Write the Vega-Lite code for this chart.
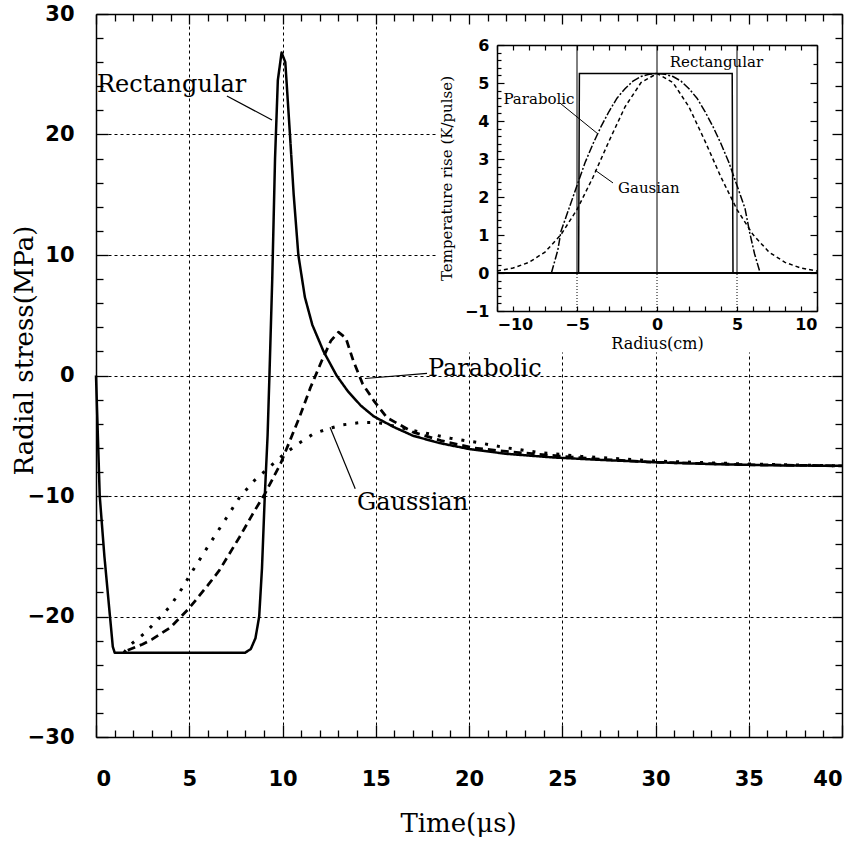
{
  "$schema": "https://vega.github.io/schema/vega-lite/v6.json",
  "width": 746,
  "height": 723,
  "autosize": {"type": "none"},
  "padding": {"left": 96, "top": 14, "right": 20, "bottom": 107},
  "background": "white",
  "config": {
    "view": {"stroke": null},
    "axis": {"domainColor": "black", "tickColor": "black", "labelColor": "black", "titleColor": "black", "gridColor": "black"}
  },
  "datasets": {
    "panel": [{"x1": 18.3, "x2": 39.9, "y1": 1.9, "y2": 29.8}],
    "stress": [
      {"series": "Rectangular", "t": 0, "v": 0},
      {"series": "Rectangular", "t": 0.1, "v": -5},
      {"series": "Rectangular", "t": 0.2, "v": -10},
      {"series": "Rectangular", "t": 0.45, "v": -15},
      {"series": "Rectangular", "t": 0.75, "v": -20},
      {"series": "Rectangular", "t": 0.9, "v": -22.5},
      {"series": "Rectangular", "t": 1.0, "v": -23},
      {"series": "Rectangular", "t": 2, "v": -23},
      {"series": "Rectangular", "t": 4, "v": -23},
      {"series": "Rectangular", "t": 6, "v": -23},
      {"series": "Rectangular", "t": 8, "v": -23},
      {"series": "Rectangular", "t": 8.3, "v": -22.7},
      {"series": "Rectangular", "t": 8.55, "v": -21.8},
      {"series": "Rectangular", "t": 8.75, "v": -20},
      {"series": "Rectangular", "t": 8.9, "v": -16},
      {"series": "Rectangular", "t": 9.05, "v": -10},
      {"series": "Rectangular", "t": 9.2, "v": -5},
      {"series": "Rectangular", "t": 9.3, "v": 0},
      {"series": "Rectangular", "t": 9.45, "v": 8},
      {"series": "Rectangular", "t": 9.6, "v": 18},
      {"series": "Rectangular", "t": 9.75, "v": 24.5},
      {"series": "Rectangular", "t": 9.95, "v": 26.8},
      {"series": "Rectangular", "t": 10.15, "v": 26},
      {"series": "Rectangular", "t": 10.4, "v": 20},
      {"series": "Rectangular", "t": 10.6, "v": 15},
      {"series": "Rectangular", "t": 10.85, "v": 10},
      {"series": "Rectangular", "t": 11.2, "v": 6.5},
      {"series": "Rectangular", "t": 11.6, "v": 4.2},
      {"series": "Rectangular", "t": 12.2, "v": 2},
      {"series": "Rectangular", "t": 12.9, "v": 0},
      {"series": "Rectangular", "t": 13.5, "v": -1.3},
      {"series": "Rectangular", "t": 14.2, "v": -2.5},
      {"series": "Rectangular", "t": 14.9, "v": -3.4},
      {"series": "Rectangular", "t": 16, "v": -4.3},
      {"series": "Rectangular", "t": 17, "v": -5.0},
      {"series": "Rectangular", "t": 18.4, "v": -5.6},
      {"series": "Rectangular", "t": 20, "v": -6.1},
      {"series": "Rectangular", "t": 22, "v": -6.5},
      {"series": "Rectangular", "t": 24.5, "v": -6.8},
      {"series": "Rectangular", "t": 27, "v": -7.0},
      {"series": "Rectangular", "t": 30, "v": -7.2},
      {"series": "Rectangular", "t": 33, "v": -7.35},
      {"series": "Rectangular", "t": 36, "v": -7.45},
      {"series": "Rectangular", "t": 40, "v": -7.5},
      {"series": "Parabolic", "t": 1.7, "v": -22.8},
      {"series": "Parabolic", "t": 2.5, "v": -22.3},
      {"series": "Parabolic", "t": 3, "v": -21.9},
      {"series": "Parabolic", "t": 4, "v": -20.9},
      {"series": "Parabolic", "t": 5, "v": -19.3},
      {"series": "Parabolic", "t": 6, "v": -17.4},
      {"series": "Parabolic", "t": 6.6, "v": -16.2},
      {"series": "Parabolic", "t": 7.7, "v": -13.4},
      {"series": "Parabolic", "t": 8.4, "v": -11.5},
      {"series": "Parabolic", "t": 9.06, "v": -9.8},
      {"series": "Parabolic", "t": 9.9, "v": -7.3},
      {"series": "Parabolic", "t": 10.9, "v": -3.5},
      {"series": "Parabolic", "t": 11.5, "v": -1.0},
      {"series": "Parabolic", "t": 12.1, "v": 1.2},
      {"series": "Parabolic", "t": 12.6, "v": 2.9},
      {"series": "Parabolic", "t": 13.0, "v": 3.6},
      {"series": "Parabolic", "t": 13.4, "v": 3.1},
      {"series": "Parabolic", "t": 13.8, "v": 1.2},
      {"series": "Parabolic", "t": 14.3, "v": -0.7},
      {"series": "Parabolic", "t": 14.9, "v": -2.1},
      {"series": "Parabolic", "t": 15.6, "v": -3.5},
      {"series": "Parabolic", "t": 17, "v": -4.7},
      {"series": "Parabolic", "t": 18.5, "v": -5.4},
      {"series": "Parabolic", "t": 20.2, "v": -6.0},
      {"series": "Parabolic", "t": 22, "v": -6.3},
      {"series": "Parabolic", "t": 24.2, "v": -6.6},
      {"series": "Parabolic", "t": 27, "v": -6.95},
      {"series": "Parabolic", "t": 30, "v": -7.2},
      {"series": "Parabolic", "t": 35, "v": -7.4},
      {"series": "Parabolic", "t": 40, "v": -7.5},
      {"series": "Gaussian", "t": 1.5, "v": -23},
      {"series": "Gaussian", "t": 1.8, "v": -22.4},
      {"series": "Gaussian", "t": 2.6, "v": -21.4},
      {"series": "Gaussian", "t": 3.3, "v": -20.3},
      {"series": "Gaussian", "t": 4.0, "v": -19.1},
      {"series": "Gaussian", "t": 4.6, "v": -17.7},
      {"series": "Gaussian", "t": 5.1, "v": -16.4},
      {"series": "Gaussian", "t": 6, "v": -14.2},
      {"series": "Gaussian", "t": 7, "v": -11.8},
      {"series": "Gaussian", "t": 7.7, "v": -10.1},
      {"series": "Gaussian", "t": 8.5, "v": -8.7},
      {"series": "Gaussian", "t": 9.3, "v": -7.6},
      {"series": "Gaussian", "t": 10.1, "v": -6.5},
      {"series": "Gaussian", "t": 10.9, "v": -5.6},
      {"series": "Gaussian", "t": 11.7, "v": -4.8},
      {"series": "Gaussian", "t": 12.5, "v": -4.4},
      {"series": "Gaussian", "t": 13.2, "v": -4.1},
      {"series": "Gaussian", "t": 14.2, "v": -3.9},
      {"series": "Gaussian", "t": 15.1, "v": -3.9},
      {"series": "Gaussian", "t": 16, "v": -4.2},
      {"series": "Gaussian", "t": 17.4, "v": -4.7},
      {"series": "Gaussian", "t": 19, "v": -5.2},
      {"series": "Gaussian", "t": 20.6, "v": -5.6},
      {"series": "Gaussian", "t": 22, "v": -6.0},
      {"series": "Gaussian", "t": 23.8, "v": -6.4},
      {"series": "Gaussian", "t": 26, "v": -6.7},
      {"series": "Gaussian", "t": 28, "v": -6.9},
      {"series": "Gaussian", "t": 30, "v": -7.1},
      {"series": "Gaussian", "t": 35, "v": -7.35},
      {"series": "Gaussian", "t": 40, "v": -7.5}
    ],
    "mainLabels": [
      {"label": "Rectangular", "x": 0.05, "y": 24.1},
      {"label": "Parabolic", "x": 17.8, "y": 0.58},
      {"label": "Gaussian", "x": 14.0, "y": -10.6}
    ],
    "mainPointers": [
      {"x": 7.02, "y": 23.2, "x2": 9.44, "y2": 21.2},
      {"x": 14.42, "y": -0.25, "x2": 17.75, "y2": 0.17},
      {"x": 12.55, "y": -4.3, "x2": 13.9, "y2": -9.4}
    ],
    "temp": [
      {"curve": "Rectangular", "r": -10, "T": 0},
      {"curve": "Rectangular", "r": -4.9, "T": 0},
      {"curve": "Rectangular", "r": -4.85, "T": 5.25},
      {"curve": "Rectangular", "r": 4.7, "T": 5.25},
      {"curve": "Rectangular", "r": 4.75, "T": 0},
      {"curve": "Rectangular", "r": 10, "T": 0},
      {"curve": "Parabolic", "r": -6.6, "T": 0},
      {"curve": "Parabolic", "r": -6.2, "T": 0.6},
      {"curve": "Parabolic", "r": -6.0, "T": 1.1},
      {"curve": "Parabolic", "r": -5.5, "T": 1.7},
      {"curve": "Parabolic", "r": -5.0, "T": 2.3},
      {"curve": "Parabolic", "r": -4.5, "T": 2.9},
      {"curve": "Parabolic", "r": -4.0, "T": 3.4},
      {"curve": "Parabolic", "r": -3.5, "T": 3.85},
      {"curve": "Parabolic", "r": -3.0, "T": 4.25},
      {"curve": "Parabolic", "r": -2.5, "T": 4.6},
      {"curve": "Parabolic", "r": -2.0, "T": 4.85},
      {"curve": "Parabolic", "r": -1.5, "T": 5.05},
      {"curve": "Parabolic", "r": -1.0, "T": 5.17},
      {"curve": "Parabolic", "r": -0.5, "T": 5.23},
      {"curve": "Parabolic", "r": 0, "T": 5.25},
      {"curve": "Parabolic", "r": 0.5, "T": 5.23},
      {"curve": "Parabolic", "r": 1.0, "T": 5.17},
      {"curve": "Parabolic", "r": 1.5, "T": 5.05},
      {"curve": "Parabolic", "r": 2.0, "T": 4.85},
      {"curve": "Parabolic", "r": 2.5, "T": 4.6},
      {"curve": "Parabolic", "r": 3.0, "T": 4.25},
      {"curve": "Parabolic", "r": 3.5, "T": 3.85},
      {"curve": "Parabolic", "r": 4.0, "T": 3.4},
      {"curve": "Parabolic", "r": 4.5, "T": 2.9},
      {"curve": "Parabolic", "r": 5.0, "T": 2.3},
      {"curve": "Parabolic", "r": 5.5, "T": 1.7},
      {"curve": "Parabolic", "r": 5.8, "T": 1.05},
      {"curve": "Parabolic", "r": 6.1, "T": 0.5},
      {"curve": "Parabolic", "r": 6.45, "T": 0},
      {"curve": "Gausian", "r": -10, "T": 0.05},
      {"curve": "Gausian", "r": -9, "T": 0.13},
      {"curve": "Gausian", "r": -8, "T": 0.28},
      {"curve": "Gausian", "r": -7, "T": 0.55},
      {"curve": "Gausian", "r": -6, "T": 1.01},
      {"curve": "Gausian", "r": -5, "T": 1.67},
      {"curve": "Gausian", "r": -4, "T": 2.52},
      {"curve": "Gausian", "r": -3, "T": 3.47},
      {"curve": "Gausian", "r": -2, "T": 4.37},
      {"curve": "Gausian", "r": -1, "T": 5.01},
      {"curve": "Gausian", "r": 0, "T": 5.25},
      {"curve": "Gausian", "r": 1, "T": 5.01},
      {"curve": "Gausian", "r": 2, "T": 4.37},
      {"curve": "Gausian", "r": 3, "T": 3.47},
      {"curve": "Gausian", "r": 4, "T": 2.52},
      {"curve": "Gausian", "r": 5, "T": 1.67},
      {"curve": "Gausian", "r": 6, "T": 1.01},
      {"curve": "Gausian", "r": 7, "T": 0.55},
      {"curve": "Gausian", "r": 8, "T": 0.28},
      {"curve": "Gausian", "r": 9, "T": 0.13},
      {"curve": "Gausian", "r": 10, "T": 0.05}
    ],
    "insetGrid": [{"r": -5}, {"r": 0}, {"r": 5}],
    "insetLabels": [
      {"label": "Rectangular", "r": 0.8, "T": 5.55},
      {"label": "Parabolic", "r": -9.6, "T": 4.58},
      {"label": "Gausian", "r": -2.44, "T": 2.24}
    ],
    "insetPointers": [
      {"r": -6.06, "T": 4.47, "r2": -3.75, "T2": 3.68},
      {"r": -2.75, "T": 2.37, "r2": -3.88, "T2": 2.71}
    ]
  },
  "layer": [
    {
      "layer": [
        {
          "data": {"name": "panel"},
          "mark": {"type": "rect", "fill": "white", "stroke": null},
          "encoding": {
            "x": {"field": "x1", "type": "quantitative",
              "scale": {"domain": [0, 40], "nice": false, "zero": false},
              "axis": {"orient": "bottom", "values": [0, 5, 10, 15, 20, 25, 30, 35, 40], "zindex": 0,
                "grid": true, "gridDash": [3, 3], "gridWidth": 1,
                "gridOpacity": {"condition": {"test": "datum.value > 0 && datum.value < 40", "value": 1}, "value": 0},
                "ticks": false, "domain": false,
                "labelFont": "DejaVu Sans", "labelFontSize": 21, "labelFontWeight": "bold", "labelPadding": 31,
                "title": "Time(μs)", "titleFont": "DejaVu Serif", "titleFontSize": 26,
                "titleFontWeight": "normal", "titleX": 362, "titleY": 86, "titleBaseline": "middle", "titleAlign": "center"}},
            "x2": {"field": "x2"},
            "y": {"field": "y1", "type": "quantitative",
              "scale": {"domain": [-30, 30], "nice": false, "zero": false},
              "axis": {"orient": "left", "values": [-30, -20, -10, 0, 10, 20, 30], "zindex": 0,
                "grid": true, "gridDash": [3, 3], "gridWidth": 1,
                "gridOpacity": {"condition": {"test": "datum.value > -30 && datum.value < 30", "value": 1}, "value": 0},
                "ticks": false, "domain": false,
                "labelFont": "DejaVu Sans", "labelFontSize": 21, "labelFontWeight": "bold", "labelPadding": 22,
                "title": "Radial stress(MPa)", "titleFont": "DejaVu Serif", "titleFontSize": 26,
                "titleFontWeight": "normal", "titleAngle": -90, "titleX": -72, "titleY": 336, "titleBaseline": "middle", "titleAlign": "center"}},
            "y2": {"field": "y2"}
          }
        },
        {
          "data": {"name": "stress"},
          "mark": {"type": "line", "stroke": "black", "strokeCap": "butt", "strokeJoin": "round"},
          "encoding": {
            "x": {"field": "t", "type": "quantitative",
              "scale": {"domain": [0, 40], "nice": false, "zero": false},
              "axis": {"orient": "bottom", "values": [0,1,2,3,4,5,6,7,8,9,10,11,12,13,14,15,16,17,18,19,20,21,22,23,24,25,26,27,28,29,30,31,32,33,34,35,36,37,38,39,40],
                "zindex": 1, "grid": false, "labels": false, "title": null, "domain": true, "domainWidth": 1.5,
                "ticks": true, "tickWidth": 1.3,
                "tickSize": {"condition": {"test": "datum.value % 5 === 0", "value": -12}, "value": -7}}},
            "y": {"field": "v", "type": "quantitative",
              "scale": {"domain": [-30, 30], "nice": false, "zero": false},
              "axis": {"orient": "left", "values": [-30,-28,-26,-24,-22,-20,-18,-16,-14,-12,-10,-8,-6,-4,-2,0,2,4,6,8,10,12,14,16,18,20,22,24,26,28,30],
                "zindex": 1, "grid": false, "labels": false, "title": null, "domain": true, "domainWidth": 1.5,
                "ticks": true, "tickWidth": 1.3,
                "tickSize": {"condition": {"test": "datum.value % 10 === 0", "value": -12}, "value": -7}}},
            "strokeDash": {"field": "series", "type": "nominal", "legend": null,
              "scale": {"domain": ["Rectangular", "Parabolic", "Gaussian"], "range": [[1, 0], [8, 5], [3, 9]]}},
            "strokeWidth": {"field": "series", "type": "nominal", "legend": null,
              "scale": {"domain": ["Rectangular", "Parabolic", "Gaussian"], "range": [2.5, 3, 3.5]}}
          }
        },
        {
          "data": {"name": "mainLabels"},
          "mark": {"type": "text", "align": "left", "baseline": "middle", "font": "DejaVu Serif", "fontSize": 24, "color": "black"},
          "encoding": {
            "x": {"field": "x", "type": "quantitative",
              "scale": {"domain": [0, 40], "nice": false, "zero": false},
              "axis": {"orient": "top", "values": [0,1,2,3,4,5,6,7,8,9,10,11,12,13,14,15,16,17,18,19,20,21,22,23,24,25,26,27,28,29,30,31,32,33,34,35,36,37,38,39,40],
                "zindex": 1, "grid": false, "labels": false, "title": null, "domain": true, "domainWidth": 1.5,
                "ticks": true, "tickWidth": 1.3,
                "tickSize": {"condition": {"test": "datum.value % 5 === 0", "value": -10}, "value": -7}}},
            "y": {"field": "y", "type": "quantitative",
              "scale": {"domain": [-30, 30], "nice": false, "zero": false},
              "axis": {"orient": "right", "values": [-30,-28,-26,-24,-22,-20,-18,-16,-14,-12,-10,-8,-6,-4,-2,0,2,4,6,8,10,12,14,16,18,20,22,24,26,28,30],
                "zindex": 1, "grid": false, "labels": false, "title": null, "domain": true, "domainWidth": 1.5,
                "ticks": true, "tickWidth": 1.3,
                "tickSize": {"condition": {"test": "datum.value % 10 === 0", "value": -10}, "value": -7}}},
            "text": {"field": "label"}
          }
        },
        {
          "data": {"name": "mainPointers"},
          "mark": {"type": "rule", "stroke": "black", "strokeWidth": 1.2},
          "encoding": {
            "x": {"field": "x", "type": "quantitative", "scale": {"domain": [0, 40], "nice": false, "zero": false}, "axis": null},
            "y": {"field": "y", "type": "quantitative", "scale": {"domain": [-30, 30], "nice": false, "zero": false}, "axis": null},
            "x2": {"field": "x2"},
            "y2": {"field": "y2"}
          }
        }
      ],
      "resolve": {"axis": {"x": "independent", "y": "independent"}}
    },
    {
      "layer": [
        {
          "data": {"name": "temp"},
          "mark": {"type": "line", "stroke": "black", "strokeWidth": 1.5, "strokeCap": "butt"},
          "encoding": {
            "x": {"field": "r", "type": "quantitative",
              "scale": {"domain": [-10, 10], "range": [401, 721], "nice": false, "zero": false},
              "axis": {"orient": "bottom", "offset": -426, "values": [-10, -5, 0, 5, 10], "zindex": 1,
                "grid": false, "ticks": false, "domain": false,
                "labelFont": "DejaVu Sans", "labelFontSize": 16, "labelFontWeight": "bold", "labelPadding": 5,
                "title": "Radius(cm)", "titleFont": "DejaVu Serif", "titleFontSize": 16,
                "titleFontWeight": "normal", "titlePadding": 3}},
            "y": {"field": "T", "type": "quantitative",
              "scale": {"domain": [-1, 6], "range": [297, 31], "nice": false, "zero": false},
              "axis": {"orient": "left", "offset": -401, "values": [-1, 0, 1, 2, 3, 4, 5, 6], "zindex": 1,
                "grid": false, "ticks": false, "domain": false,
                "labelFont": "DejaVu Sans", "labelFontSize": 16, "labelFontWeight": "bold", "labelPadding": 8,
                "title": "Temperature rise (K/pulse)", "titleFont": "DejaVu Serif", "titleFontSize": 15,
                "titleFontWeight": "normal", "titlePadding": 10}},
            "strokeDash": {"field": "curve", "type": "nominal", "legend": null,
              "scale": {"domain": ["Rectangular", "Parabolic", "Gausian"], "range": [[1, 0], [8, 2, 2, 2], [4, 3]]}}
          }
        },
        {
          "data": {"name": "insetGrid"},
          "mark": {"type": "rule", "stroke": "black", "strokeWidth": 1},
          "encoding": {
            "x": {"field": "r", "type": "quantitative",
              "scale": {"domain": [-10, 10], "range": [401, 721], "nice": false, "zero": false},
              "axis": {"orient": "bottom", "offset": -426, "values": [-10,-9,-8,-7,-6,-5,-4,-3,-2,-1,0,1,2,3,4,5,6,7,8,9,10], "zindex": 1,
                "grid": false, "labels": false, "title": null, "domain": true, "domainWidth": 1.5,
                "ticks": true, "tickWidth": 1.2, "tickSize": -5}},
            "y": {"datum": 0, "type": "quantitative",
              "scale": {"domain": [-1, 6], "range": [297, 31], "nice": false, "zero": false},
              "axis": {"orient": "left", "offset": -401, "values": [-1,-0.8,-0.6,-0.4,-0.2,0,0.2,0.4,0.6,0.8,1,1.2,1.4,1.6,1.8,2,2.2,2.4,2.6,2.8,3,3.2,3.4,3.6,3.8,4,4.2,4.4,4.6,4.8,5,5.2,5.4,5.6,5.8,6], "zindex": 1,
                "grid": false, "labels": false, "title": null, "domain": true, "domainWidth": 1.5,
                "ticks": true, "tickWidth": 1.2,
                "tickSize": {"condition": {"test": "abs(datum.value - round(datum.value)) < 0.01", "value": -7}, "value": -4}}},
            "y2": {"datum": 6}
          }
        },
        {
          "data": {"name": "insetGrid"},
          "mark": {"type": "rule", "stroke": "black", "strokeWidth": 1, "strokeDash": [1, 2]},
          "encoding": {
            "x": {"field": "r", "type": "quantitative",
              "scale": {"domain": [-10, 10], "range": [401, 721], "nice": false, "zero": false},
              "axis": {"orient": "top", "offset": -31, "values": [-10,-9,-8,-7,-6,-5,-4,-3,-2,-1,0,1,2,3,4,5,6,7,8,9,10], "zindex": 1,
                "grid": false, "labels": false, "title": null, "domain": true, "domainWidth": 1.5,
                "ticks": true, "tickWidth": 1.2, "tickSize": -5}},
            "y": {"datum": -1, "type": "quantitative",
              "scale": {"domain": [-1, 6], "range": [297, 31], "nice": false, "zero": false},
              "axis": {"orient": "right", "offset": -25, "values": [-1,-0.5,0,0.5,1,1.5,2,2.5,3,3.5,4,4.5,5,5.5,6], "zindex": 1,
                "grid": false, "labels": false, "title": null, "domain": true, "domainWidth": 1.5,
                "ticks": true, "tickWidth": 1.2,
                "tickSize": {"condition": {"test": "abs(datum.value - round(datum.value)) < 0.01", "value": -7}, "value": -4}}},
            "y2": {"datum": 0}
          }
        },
        {
          "data": {"name": "insetGrid"},
          "mark": {"type": "rule", "stroke": "black", "strokeWidth": 1.5},
          "encoding": {
            "x": {"datum": -10, "type": "quantitative", "scale": {"domain": [-10, 10], "range": [401, 721], "nice": false, "zero": false}, "axis": null},
            "x2": {"datum": 10},
            "y": {"datum": 0, "type": "quantitative", "scale": {"domain": [-1, 6], "range": [297, 31], "nice": false, "zero": false}, "axis": null}
          }
        },
        {
          "data": {"name": "insetLabels"},
          "mark": {"type": "text", "align": "left", "baseline": "middle", "font": "DejaVu Serif", "fontSize": 15, "color": "black"},
          "encoding": {
            "x": {"field": "r", "type": "quantitative", "scale": {"domain": [-10, 10], "range": [401, 721], "nice": false, "zero": false}, "axis": null},
            "y": {"field": "T", "type": "quantitative", "scale": {"domain": [-1, 6], "range": [297, 31], "nice": false, "zero": false}, "axis": null},
            "text": {"field": "label"}
          }
        },
        {
          "data": {"name": "insetPointers"},
          "mark": {"type": "rule", "stroke": "black", "strokeWidth": 1},
          "encoding": {
            "x": {"field": "r", "type": "quantitative", "scale": {"domain": [-10, 10], "range": [401, 721], "nice": false, "zero": false}, "axis": null},
            "y": {"field": "T", "type": "quantitative", "scale": {"domain": [-1, 6], "range": [297, 31], "nice": false, "zero": false}, "axis": null},
            "x2": {"field": "r2"},
            "y2": {"field": "T2"}
          }
        }
      ],
      "resolve": {"axis": {"x": "independent", "y": "independent"}}
    }
  ],
  "resolve": {
    "scale": {"x": "independent", "y": "independent", "strokeDash": "independent"},
    "axis": {"x": "independent", "y": "independent"}
  }
}
